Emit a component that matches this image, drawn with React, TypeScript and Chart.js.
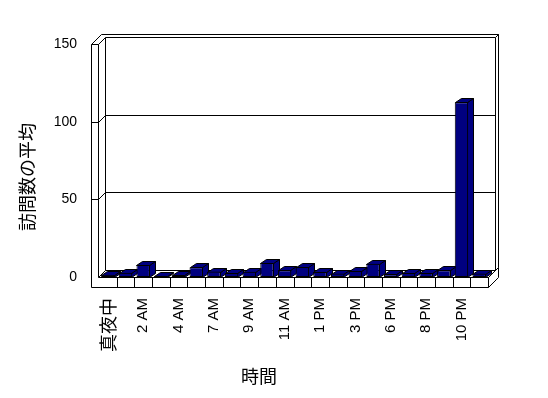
import React, { useEffect, useRef } from 'react';
import { Chart, registerables } from 'chart.js';

Chart.register(...registerables);

// ---- data ----
const hours = [
  '真夜中', '1 AM', '2 AM', '3 AM', '4 AM', '5 AM', '7 AM', '8 AM', '9 AM', '10 AM', '11 AM',
  '正午', '1 PM', '2 PM', '3 PM', '4 PM', '6 PM', '7 PM', '8 PM', '9 PM', '10 PM', '11 PM',
];
const visits = [1.5, 2.8, 7.7, 0.8, 1, 6.2, 3.5, 2.5, 3.3, 9, 4.3, 6.5, 3.2, 2.2, 3.9, 8.6, 1.7, 2.6, 2.6, 4.3, 112.5, 2.2];
const yTicks = [0, 50, 100, 150];
const yTitle = '訪問数の平均';
const xTitle = '時間';

const LAT = '"Liberation Sans", "Noto Sans CJK JP", sans-serif';
const CJK = '"Noto Sans CJK JP", "Liberation Sans", sans-serif';
const NAVY = '#000080';

const s = (v: number) => Math.round(v) + 0.5;

function poly(ctx: CanvasRenderingContext2D, pts: number[][], fill: string | null) {
  ctx.beginPath();
  pts.forEach((p, i) => (i === 0 ? ctx.moveTo(s(p[0]), s(p[1])) : ctx.lineTo(s(p[0]), s(p[1]))));
  ctx.closePath();
  if (fill) {
    ctx.fillStyle = fill;
    ctx.fill();
  }
  ctx.stroke();
}
function line(ctx: CanvasRenderingContext2D, x1: number, y1: number, x2: number, y2: number) {
  ctx.beginPath();
  ctx.moveTo(s(x1), s(y1));
  ctx.lineTo(s(x2), s(y2));
  ctx.stroke();
}

const depthPlugin = {
  id: 'depth3d',
  beforeDatasetsDraw(chart: any) {
    const { ctx, chartArea: a, scales } = chart;
    const x = scales.x;
    const y = scales.y;
    const T = y.getPixelForValue(yTicks[yTicks.length - 1]);
    const B = y.getPixelForValue(0);
    const R = a.right;
    const WL = a.left - 8.5;
    const WR = a.left - 1.5;
    const d = 7; // inner back plane
    const D = 10; // outer back plane
    const F = 10; // floor thickness
    ctx.save();
    ctx.lineWidth = 1;
    ctx.strokeStyle = '#000';
    // back wall inner face
    poly(ctx, [[WR + d, T - d], [R + d, T - d], [R + d, B - d], [WR + d, B - d]], '#fff');
    // gridlines on back wall
    yTicks.slice(1, -1).forEach((v) => {
      const py = y.getPixelForValue(v);
      line(ctx, WR + d, py - d, R + d, py - d);
    });
    // left wall inner face
    poly(ctx, [[WR, T], [WR + d, T - d], [WR + d, B - d], [WR, B]], '#fff');
    yTicks.slice(1, -1).forEach((v) => {
      const py = y.getPixelForValue(v);
      line(ctx, WR, py, WR + d, py - d);
    });
    // top faces
    poly(ctx, [[WL, T], [WR, T], [WR + d, T - d], [R + d, T - d], [R + D, T - D], [WL + D, T - D]], '#fff');
    // back wall right face
    poly(ctx, [[R + d, T - d], [R + D, T - D], [R + D, B - D], [R + d, B - d]], '#fff');
    // floor top
    poly(ctx, [[WR, B], [R, B], [R + d, B - d], [WR + d, B - d]], '#fff');
    // floor right face
    poly(ctx, [[R, B], [R + D, B - D], [R + D, B], [R, B + F]], '#fff');
    // front L face (left wall front + floor front)
    poly(ctx, [[WL, T], [WR, T], [WR, B], [R, B], [R, B + F], [WL, B + F]], '#fff');
    // ticks on left wall front
    yTicks.slice(1, -1).forEach((v) => {
      const py = y.getPixelForValue(v);
      line(ctx, WL, py, WR, py);
    });
    // category ticks on floor front
    for (let i = 0; i < hours.length - 1; i++) {
      const px = (x.getPixelForValue(i) + x.getPixelForValue(i + 1)) / 2;
      line(ctx, px, B, px, B + F);
    }
    // bar depth faces
    const meta = chart.getDatasetMeta(0);
    const bdx = 6;
    const bdy = -4;
    meta.data.forEach((el: any) => {
      const l = el.x - el.width / 2;
      const r = el.x + el.width / 2 - 1;
      const t = el.y;
      const b = el.base;
      poly(ctx, [[r, t], [r + bdx, t + bdy], [r + bdx, b + bdy], [r, b]], NAVY);
      poly(ctx, [[l, t], [l + bdx, t + bdy], [r + bdx, t + bdy], [r, t]], NAVY);
    });
    ctx.restore();
  },
  afterDraw(chart: any) {
    const { ctx } = chart;
    ctx.save();
    ctx.fillStyle = '#000';
    ctx.font = `18px ${CJK}`;
    ctx.textAlign = 'center';
    ctx.textBaseline = 'middle';
    ctx.save();
    ctx.translate(27, 177);
    ctx.rotate(-Math.PI / 2);
    ctx.fillText(yTitle, 0, 0);
    ctx.restore();
    ctx.fillText(xTitle, 259, 376);
    ctx.restore();
  },
};

export default function App() {
  const ref = useRef<HTMLCanvasElement | null>(null);
  useEffect(() => {
    document.body.style.margin = '0';
    const canvas = ref.current!;
    const chart = new Chart(canvas, {
      type: 'bar',
      data: {
        labels: hours,
        datasets: [
          {
            data: visits,
            backgroundColor: NAVY,
            borderColor: '#000',
            borderWidth: 1,
            borderSkipped: false,
            barPercentage: 0.76,
            categoryPercentage: 1,
          },
        ],
      },
      options: {
        animation: false,
        responsive: false,
        devicePixelRatio: 1,
        layout: { padding: { left: 0, top: 44, right: 60, bottom: 0 } },
        plugins: { legend: { display: false }, tooltip: { enabled: false }, title: { display: false } },
        scales: {
          x: {
            type: 'category',
            grid: { display: false, drawTicks: false },
            border: { display: false },
            ticks: {
              autoSkip: false,
              minRotation: 90,
              maxRotation: 90,
              padding: 21,
              color: '#000',
              font: (c: any) => (c.index === 0 ? { family: CJK, size: 18 } : { family: LAT, size: 15 }),
              callback: (_v: any, i: number) => (i % 2 === 0 ? hours[i] : ''),
            },
            afterFit: (sc: any) => {
              sc.height = 121;
            },
          },
          y: {
            min: 0,
            max: 150,
            grid: { display: false, drawTicks: false },
            border: { display: false },
            ticks: {
              stepSize: 50,
              padding: 22,
              color: '#000',
              font: { family: LAT, size: 14 },
            },
            afterFit: (sc: any) => {
              sc.width = 99;
            },
          },
        },
      },
      plugins: [depthPlugin],
    });
    return () => chart.destroy();
  }, []);
  return <canvas ref={ref} width={548} height={398} style={{ display: 'block', width: 548, height: 398 }} />;
}
